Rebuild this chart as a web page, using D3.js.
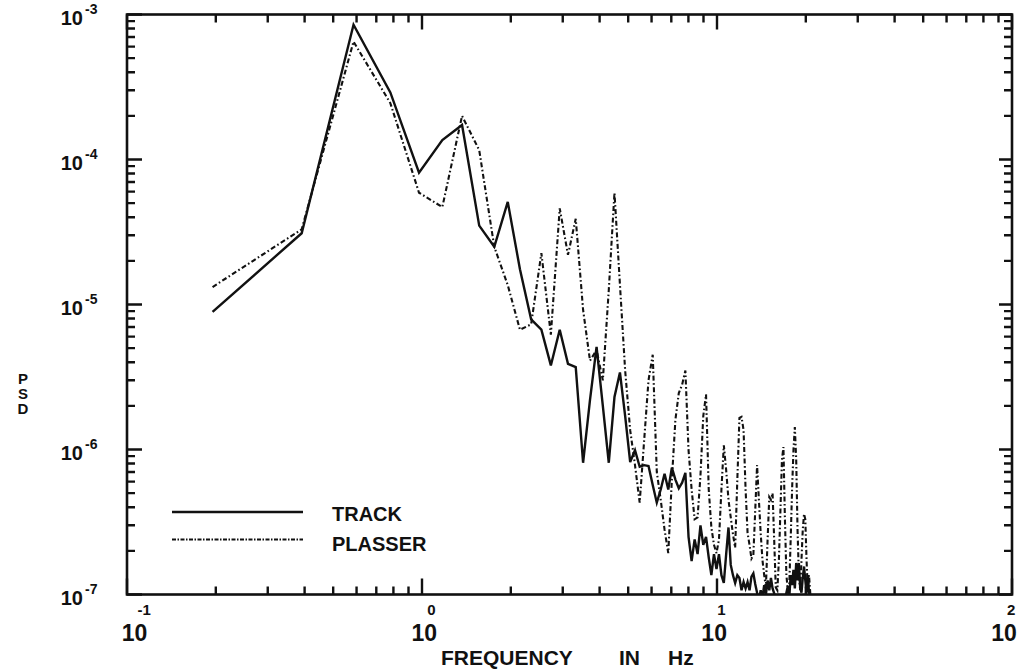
<!DOCTYPE html>
<html><head><meta charset="utf-8">
<script src="https://cdn.jsdelivr.net/npm/d3@7"></script>
<style>
body{margin:0;background:#fff}
text{font-family:"Liberation Sans",Arial,sans-serif;font-weight:bold;fill:#111}
</style>
</head><body>
<svg id="c" width="1018" height="669"></svg>
<script>
// Frequency bins (Hz)
const freq = [0.195,0.391,0.586,0.781,0.977,1.172,1.367,1.563,1.758,1.953,
2.148,2.344,2.539,2.734,2.930,3.125,3.320,3.516,3.711,3.906,
4.102,4.297,4.492,4.688,4.883,5.078,5.273,5.469,5.664,5.859,
6.055,6.250,6.445,6.641,6.836,7.031,7.227,7.422,7.617,7.813,
8.008,8.203,8.398,8.594,8.789,8.984,9.180,9.375,9.570,9.766,
9.961,10.156,10.352,10.547,10.742,10.938,11.133,11.328,11.523,11.719,
11.914,12.109,12.305,12.500,12.695,12.891,13.086,13.281,13.477,13.672,
13.867,14.063,14.258,14.453,14.648,14.844,15.039,15.234,15.430,15.625,
15.820,16.016,16.211,16.406,16.602,16.797,16.992,17.188,17.383,17.578,
17.773,17.969,18.164,18.359,18.555,18.750,18.945,19.141,19.336,19.531,
19.727,19.922,20.117,20.313,20.508,20.703,20.898,21.094];

// TRACK PSD
const track = [8.9e-6,3.1e-5,8.5e-4,2.9e-4,8.1e-5,1.36e-4,1.73e-4,3.5e-5,2.5e-5,5.1e-5,
1.75e-5,7.9e-6,6.7e-6,3.8e-6,6.7e-6,3.9e-6,3.7e-6,8.1e-7,2.2e-6,5.1e-6,
2.0e-6,8.1e-7,2.3e-6,3.4e-6,1.7e-6,8.2e-7,9.9e-7,7.6e-7,7.8e-7,7.7e-7,
5.7e-7,4.3e-7,5.3e-7,6.8e-7,5.3e-7,7.5e-7,6.2e-7,5.4e-7,5.9e-7,6.9e-7,
2.5e-7,1.7e-7,2.4e-7,1.9e-7,3.0e-7,2.2e-7,2.5e-7,1.8e-7,1.36e-7,1.9e-7,
1.5e-7,1.9e-7,1.36e-7,1.2e-7,1.9e-7,2.9e-7,1.6e-7,1.36e-7,1.2e-7,1.36e-7,
1.3e-7,1.07e-7,1.22e-7,1.1e-7,1.22e-7,1.07e-7,1.33e-7,1.4e-7,1.18e-7,1.03e-7,
0.9e-7,1.07e-7,0.95e-7,1.16e-7,1.0e-7,1.25e-7,1.07e-7,1.3e-7,1.1e-7,1.02e-7,
0.9e-7,1.0e-7,0.85e-7,0.95e-7,0.85e-7,0.97e-7,0.9e-7,1.03e-7,1.14e-7,0.95e-7,
1.36e-7,1.16e-7,1.48e-7,1.1e-7,1.65e-7,1.25e-7,1.65e-7,1.12e-7,1.03e-7,1.3e-7,
1.56e-7,1.25e-7,1.03e-7,1.36e-7,1.03e-7,0.9e-7,0.75e-7,0.65e-7];

// PLASSER PSD
const plasser = [1.32e-5,3.3e-5,6.5e-4,2.45e-4,5.9e-5,4.7e-5,2.0e-4,1.16e-4,2.5e-5,1.36e-5,
6.7e-6,7.3e-6,2.26e-5,6.2e-6,4.6e-5,2.2e-5,3.9e-5,9.2e-6,4.1e-6,4.85e-6,
3.0e-6,1.26e-5,5.9e-5,1.37e-5,3.5e-6,1.36e-6,7.8e-7,4.3e-7,1.16e-6,3.0e-6,
4.5e-6,7.0e-7,4.5e-7,2.8e-7,1.93e-7,6.2e-7,1.6e-6,2.45e-6,2.8e-6,3.5e-6,
9.9e-7,5.3e-7,3.3e-7,3.4e-7,6.6e-7,1.7e-6,2.4e-6,5.3e-7,2.9e-7,2.2e-7,
1.93e-7,2.4e-7,5.3e-7,1.07e-6,7.2e-7,4.5e-7,3.4e-7,2.6e-7,2.1e-7,6.2e-7,
1.65e-6,1.68e-6,1.36e-6,5.3e-7,2.65e-7,2.2e-7,1.77e-7,1.87e-7,3.8e-7,7.8e-7,
4.5e-7,2.65e-7,1.73e-7,1.36e-7,1.12e-7,2.4e-7,4.7e-7,4.5e-7,5.0e-7,2.4e-7,
1.12e-7,1.07e-7,1.73e-7,3.8e-7,8.5e-7,1.04e-6,3.3e-7,1.36e-7,1.07e-7,1.16e-7,
2.4e-7,5.3e-7,9.9e-7,1.43e-6,8.5e-7,2.8e-7,1.36e-7,1.07e-7,1.73e-7,2.8e-7,
3.6e-7,3.3e-7,1.73e-7,1.07e-7,1.36e-7,1.03e-7,0.75e-7,0.65e-7];

const xMajor = [0.1, 1, 10, 100];
const xMinor = [0.2,0.3,0.4,0.5,0.6,0.7,0.8,0.9,2,3,4,5,6,7,8,9,20,30,40,50,60,70,80,90];
const xExp = ["-1","0","1","2"];
const yMajor = [1e-3,1e-4,1e-5,1e-6,1e-7];
const yMinor = [2e-7,3e-7,4e-7,5e-7,6e-7,7e-7,8e-7,9e-7,2e-6,3e-6,4e-6,5e-6,6e-6,7e-6,8e-6,9e-6,
  2e-5,3e-5,4e-5,5e-5,6e-5,7e-5,8e-5,9e-5,2e-4,3e-4,4e-4,5e-4,6e-4,7e-4,8e-4,9e-4];
const yExp = ["-3","-4","-5","-6","-7"];
const series = [
  {name:"TRACK", values:track, dash:null},
  {name:"PLASSER", values:plasser, dash:"5,2.5,1.6,2.5"}
];

const svg = d3.select("#c");
const L=127, R=1012, T=14.5, B=594.5;
const x = d3.scaleLog().domain([0.1,100]).range([L,R]);
const y = d3.scaleLog().domain([1e-7,1e-3]).range([B,T]);
const xLab = d3.scaleLog().domain([0.1,100]).range([134.5,1004]);

svg.append("clipPath").attr("id","clip").append("rect")
  .attr("x",L).attr("y",T).attr("width",R-L).attr("height",B-T);

svg.append("rect").attr("x",L).attr("y",T).attr("width",R-L).attr("height",B-T)
  .attr("fill","none").attr("stroke","#111").attr("stroke-width",2.6);

// inward ticks on all four sides, drawn as one path
let tp = d3.path();
function seg(x1,y1,x2,y2){ tp.moveTo(x1,y1); tp.lineTo(x2,y2); }
xMinor.forEach(v=>{ const p=x(v); seg(p,B,p,B-8); seg(p,T,p,T+8); });
xMajor.forEach(v=>{ const p=x(v); seg(p,B,p,B-16); seg(p,T,p,T+15); });
yMinor.forEach(v=>{ const p=y(v); seg(L,p,L+8,p); seg(R,p,R-8,p); });
yMajor.forEach(v=>{ const p=y(v); seg(L,p,L+15,p); seg(R,p,R-13,p); });
svg.append("path").attr("d", tp.toString()).attr("fill","none")
  .attr("stroke","#111").attr("stroke-width",2.4);

// data lines
const line = d3.line().x(d=>x(d[0])).y(d=>y(d[1]));
series.forEach(s=>{
  svg.append("path").attr("clip-path","url(#clip)")
    .attr("d", line(d3.zip(freq, s.values)))
    .attr("fill","none").attr("stroke","#111")
    .attr("stroke-width", s.dash ? 2.1 : 2.4)
    .attr("stroke-linejoin","miter")
    .attr("stroke-dasharray", s.dash);
});

// y tick labels
yMajor.forEach((v,i)=>{
  const yy = y(v);
  svg.append("text").attr("x",83).attr("y",yy+10).attr("text-anchor","end")
    .attr("font-size",20).text("10");
  svg.append("text").attr("x",85).attr("y",yy-1).attr("font-size",14).text(yExp[i]);
});

// x tick labels
xMajor.forEach((v,i)=>{
  const xx = xLab(v);
  svg.append("text").attr("x",xx).attr("y",641).attr("text-anchor","middle")
    .attr("font-size",23).text("10");
  svg.append("text").attr("x",xx+3).attr("y",615).attr("font-size",15).text(xExp[i]);
});

// axis titles
svg.append("text").attr("x",441).attr("y",665).attr("font-size",21).text("FREQUENCY");
svg.append("text").attr("x",619).attr("y",665).attr("font-size",21).text("IN");
svg.append("text").attr("x",668).attr("y",665).attr("font-size",21).text("Hz");
["P","S","D"].forEach((c,i)=>{
  svg.append("text").attr("x",23).attr("y",384+i*15).attr("text-anchor","middle")
    .attr("font-size",15).text(c);
});

// legend
series.forEach((s,i)=>{
  const ly = 512 + i*27.5;
  svg.append("line").attr("x1",172).attr("x2",303).attr("y1",ly).attr("y2",ly)
    .attr("stroke","#111").attr("stroke-width", s.dash ? 2 : 2.4)
    .attr("stroke-dasharray", s.dash ? "4,1.5,1.5,1.5" : null);
  svg.append("text").attr("x",332).attr("y",ly+8.5 + i*2.5).attr("font-size",20).text(s.name);
});
</script>
</body></html>
